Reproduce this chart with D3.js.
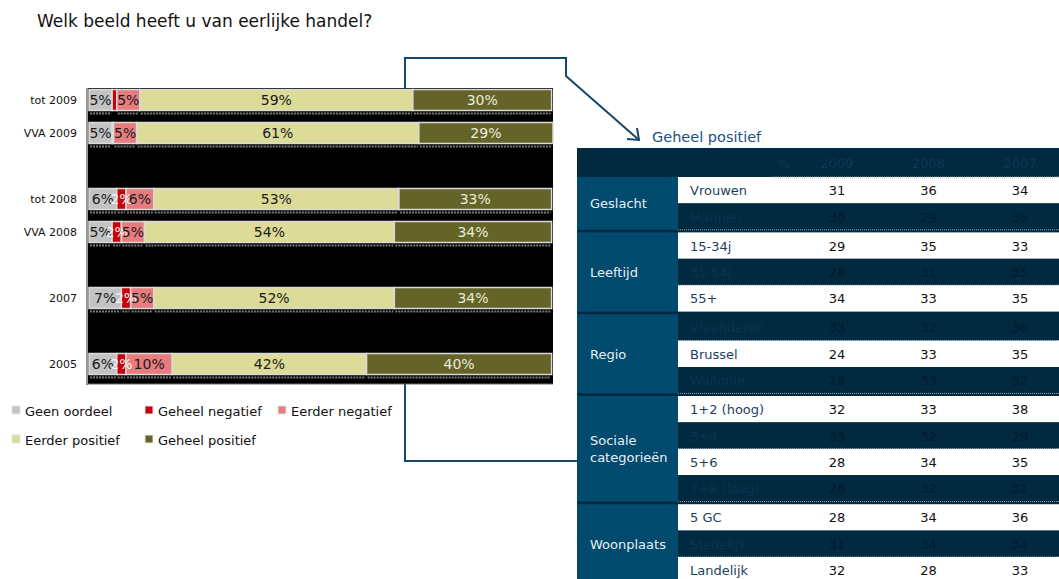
<!DOCTYPE html>
<html>
<head>
<meta charset="utf-8">
<script src="https://cdn.jsdelivr.net/npm/d3@7"></script>
<style>
  body { margin: 0; background: #fff; }
  svg { display: block; font-family: "DejaVu Sans", Verdana, sans-serif; }
</style>
</head>
<body>
<svg id="chart" width="1059" height="579"></svg>
<script>
// ---- stacked bar data ----
const rowLabels = ["tot 2009", "VVA 2009", "tot 2008", "VVA 2008", "2007", "2005"];
const slotOrder = ["tot 2009", "VVA 2009", "gap-a", "tot 2008", "VVA 2008", "gap-b", "2007", "gap-c", "2005"];
const seriesNames = ["Geen oordeel", "Geheel negatief", "Eerder negatief", "Eerder positief", "Geheel positief"];
const geenOordeel    = [5, 5, 6, 5, 7, 6];
const geheelNegatief = [1, 0.3, 2, 2, 2, 2];
const eerderNegatief = [5, 5, 6, 5, 5, 10];
const eerderPositief = [59, 61, 53, 54, 52, 42];
const geheelPositief = [30, 29, 33, 34, 34, 40];
const seriesColors = ["#c3c3c3", "#c8000a", "#e67c7e", "#dcdb98", "#646428"];
const labelColors  = ["#1a1a1a", "#f4f4f4", "#1a1a1a", "#1a1a1a", "#ececdc"];

// ---- table data (Geheel positief, %) ----
const groupNames = ["Geslacht", "Leeftijd", "Regio", "Sociale categorieën", "Woonplaats"];
const subLabels = ["Vrouwen", "Mannen", "15-34j", "35-54j", "55+", "Vlaanderen", "Brussel", "Wallonië",
                   "1+2 (hoog)", "3+4", "5+6", "7+8 (laag)", "5 GC", "Stedelijk", "Landelijk"];
const subGroup = [0, 0, 1, 1, 1, 2, 2, 2, 3, 3, 3, 3, 4, 4, 4];
const years = ["2009", "2008", "2007"];
const val2009 = [31, 30, 29, 28, 34, 33, 24, 28, 32, 33, 28, 26, 28, 31, 32];
const val2008 = [36, 29, 35, 31, 33, 32, 33, 33, 33, 32, 34, 32, 34, 34, 28];
const val2007 = [34, 35, 33, 35, 35, 36, 35, 32, 38, 29, 35, 31, 36, 34, 33];

const svg = d3.select("#chart");

// title
svg.append("text").attr("x", 37).attr("y", 27)
  .attr("font-size", 17).attr("fill", "#111")
  .text("Welk beeld heeft u van eerlijke handel?");

// ---- callout connector (drawn beneath the bars) ----
const navy = "#17466e";
svg.append("path")
  .attr("d", "M577,461 L405,461 L405,58 L566,58 L566,76 L639,140")
  .attr("fill", "none").attr("stroke", navy).attr("stroke-width", 2);
svg.append("path")
  .attr("d", "M627,139 L639,140 L637,128")
  .attr("fill", "none").attr("stroke", navy).attr("stroke-width", 2);
svg.append("text").attr("x", 652).attr("y", 142)
  .attr("font-size", 14.5).attr("fill", "#1b5282").text("Geheel positief");

// ---- stacked bars ----
const rows = rowLabels.map((name, i) => ({
  name,
  "Geen oordeel": geenOordeel[i],
  "Geheel negatief": geheelNegatief[i],
  "Eerder negatief": eerderNegatief[i],
  "Eerder positief": eerderPositief[i],
  "Geheel positief": geheelPositief[i]
}));
const totals = rows.map(r => d3.sum(seriesNames, k => r[k]));
const stacked = d3.stack().keys(seriesNames)(rows);

const x = d3.scaleLinear().domain([0, d3.max(totals)]).range([89, 553]);
const y = d3.scalePoint().domain(slotOrder).range([100, 364]);
const barH = 21;

// plot background
svg.append("rect").attr("x", 88).attr("y", 88).attr("width", 465).attr("height", 296).attr("fill", "#000");
svg.append("line").attr("x1", 87).attr("x2", 87).attr("y1", 88).attr("y2", 385)
  .attr("stroke", "#9a9a9a").attr("stroke-width", 2);
svg.append("line").attr("x1", 87).attr("x2", 553).attr("y1", 384).attr("y2", 384)
  .attr("stroke", "#6a6a6a").attr("stroke-width", 1);

// category axis labels
svg.append("g").selectAll("text").data(rowLabels).join("text")
  .attr("x", 77).attr("y", d => y(d) + 4)
  .attr("text-anchor", "end").attr("font-size", 11).attr("fill", "#111")
  .text(d => d);

const layers = svg.append("g").selectAll("g").data(stacked).join("g");
layers.selectAll("rect").data(d => d).join("rect")
  .attr("x", d => x(d[0]))
  .attr("y", d => y(d.data.name) - barH / 2)
  .attr("width", d => Math.max(0, x(d[1]) - x(d[0])))
  .attr("height", barH)
  .attr("fill", function () { return seriesColors[seriesNames.indexOf(d3.select(this.parentNode).datum().key)]; })
  .attr("stroke", "#dadada").attr("stroke-width", 1.5);

// dotted strips under each segment
layers.selectAll("line").data(d => d.filter(s => s[1] - s[0] >= 1.5)).join("line")
  .attr("x1", d => x(d[0]) + 1).attr("x2", d => x(d[1]) - 1)
  .attr("y1", d => y(d.data.name) + 13.5).attr("y2", d => y(d.data.name) + 13.5)
  .attr("stroke", "#7a7a7a").attr("stroke-width", 2).attr("stroke-dasharray", "2 1");

// value labels, drawn above all segments
const labelG = svg.append("g");
stacked.forEach((layer, si) => {
  labelG.selectAll(null).data(layer.filter(s => s[1] - s[0] >= 1.5)).join("text")
    .attr("x", d => (x(d[0]) + x(d[1])) / 2)
    .attr("y", d => y(d.data.name) + 5)
    .attr("text-anchor", "middle").attr("font-size", 14)
    .attr("fill", labelColors[si])
    .text(d => Math.round(d[1] - d[0]) + "%");
});

// legend
const legendPos = [[12, 411], [145, 411], [278, 411], [12, 440], [145, 440]];
const legend = svg.append("g").selectAll("g").data(seriesNames).join("g")
  .attr("transform", (d, i) => `translate(${legendPos[i][0]},${legendPos[i][1]})`);
legend.append("rect").attr("x", 0).attr("y", -5).attr("width", 8).attr("height", 8)
  .attr("fill", (d, i) => seriesColors[i]).attr("stroke", "#e6e6e6").attr("stroke-width", 1);
legend.append("text").attr("x", 13).attr("y", 4.5).attr("font-size", 13).attr("fill", "#111").text(d => d);

// ---- table ----
const tLeft = 577, tRight = 1059, groupW = 101;
const headTop = 148, bodyTop = 177, rowH = 26.4, sepH = 2.6;
const rowTop = i => bodyTop + i * rowH + subGroup[i] * sepH;
const dark = "#012940", groupFill = "#024a6e";
const colX = d3.scalePoint().domain(years).range([837, 1020]);

const table = svg.append("g");
table.append("rect").attr("x", tLeft).attr("y", headTop).attr("width", tRight - tLeft)
  .attr("height", 579 - headTop).attr("fill", dark);

// header texts
table.append("text").attr("x", 784).attr("y", 168).attr("text-anchor", "middle")
  .attr("font-size", 13).attr("fill", "#0c3856").text("%");
table.selectAll(".yh").data(years).join("text")
  .attr("x", d => colX(d)).attr("y", 168).attr("text-anchor", "middle")
  .attr("font-size", 13).attr("fill", "#0c3856").text(d => d);

// group cells
groupNames.forEach((g, gi) => {
  const idx = subGroup.map((s, i) => s === gi ? i : -1).filter(i => i >= 0);
  const top = rowTop(idx[0]);
  const bottom = rowTop(idx[idx.length - 1]) + rowH;
  table.append("rect").attr("x", tLeft).attr("y", top).attr("width", groupW)
    .attr("height", bottom - top).attr("fill", groupFill);
  const words = g.split(" ");
  const mid = (top + bottom) / 2;
  const t = table.append("text").attr("x", 590).attr("font-size", 13).attr("fill", "#e8eef3");
  words.forEach((w, wi) => {
    t.append("tspan").attr("x", 590)
      .attr("y", mid + 5 + (wi - (words.length - 1) / 2) * 17)
      .text(w);
  });
});

// body rows
subLabels.forEach((lab, i) => {
  const top = rowTop(i);
  const light = i % 2 === 0;
  table.append("rect").attr("x", tLeft + groupW).attr("y", top)
    .attr("width", tRight - tLeft - groupW).attr("height", rowH)
    .attr("fill", light ? "#ffffff" : dark);
  table.append("text").attr("x", 690).attr("y", top + rowH / 2 + 5)
    .attr("font-size", 13).attr("fill", light ? "#1d3f5e" : "#0b3351").text(lab);
  [val2009, val2008, val2007].forEach((arr, c) => {
    table.append("text").attr("x", colX(years[c])).attr("y", top + rowH / 2 + 5)
      .attr("text-anchor", "middle").attr("font-size", 13)
      .attr("fill", light ? "#111" : "#021a28").text(arr[i]);
  });
  if (!light) {
    table.append("line").attr("x1", tLeft + groupW).attr("x2", tRight)
      .attr("y1", top + rowH).attr("y2", top + rowH)
      .attr("stroke", "#9aa7b2").attr("stroke-width", 1).attr("stroke-dasharray", "1 1");
  }
});
table.append("line").attr("x1", 772).attr("x2", tRight).attr("y1", bodyTop).attr("y2", bodyTop)
  .attr("stroke", "#9aa7b2").attr("stroke-width", 1).attr("stroke-dasharray", "1 1");
</script>
</body>
</html>
